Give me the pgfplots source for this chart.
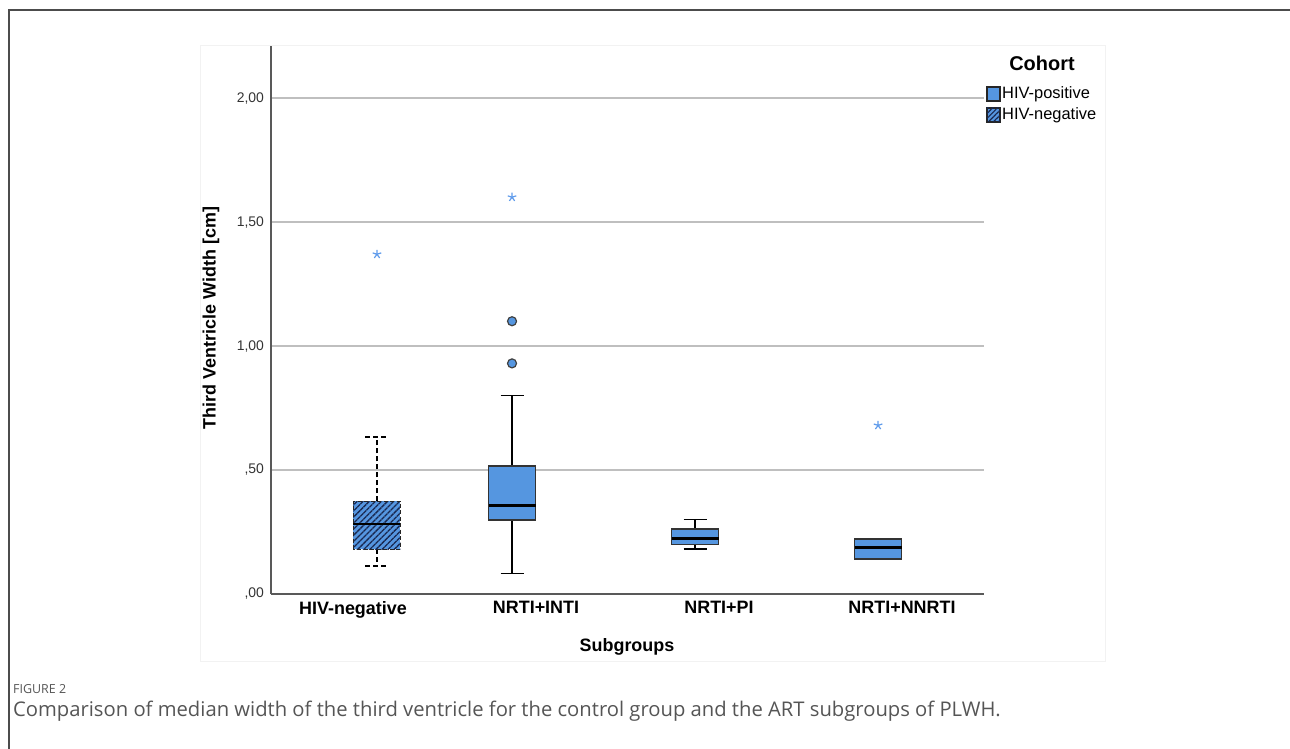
\documentclass[border=0pt]{standalone}
\usepackage{fontspec}
\setmainfont{Liberation Sans}
\newfontfamily\capfont{Open Sans}
\usepackage{pgfplots}
\pgfplotsset{compat=1.18}
\usepgfplotslibrary{statistics}
\usetikzlibrary{patterns.meta}
\definecolor{hivblue}{RGB}{85,150,224}
\definecolor{hatchc}{RGB}{25,40,80}
\definecolor{starblue}{RGB}{95,155,235}
\definecolor{capgray}{RGB}{85,85,85}
\begin{document}
\begin{tikzpicture}[x=1bp,y=1bp]
\path[use as bounding box] (0,0) rectangle (1290,749);
\draw[black!70, line width=2bp] (9,0) -- (9,739) -- (1290,739);
\draw[black!5, line width=1bp] (200,87) rectangle (1105,703);
\begin{axis}[
  at={(271bp,155bp)}, anchor=south west,
  scale only axis, width=713bp, height=548bp,
  xmin=-0.448, xmax=3.448, ymin=0, ymax=2.21,
  axis x line*=bottom, axis y line*=left,
  axis line style={-, black!65, line width=1.6bp},
  major tick length=0,
  ytick={0,0.5,1,1.5,2},
  yticklabels={{,00},{,50},{1,00},{1,50},{2,00}},
  xtick={0,1,2,3},
  xticklabels={HIV-negative,NRTI+INTI,NRTI+PI,NRTI+NNRTI},
  yticklabel style={font=\fontsize{14}{16}\selectfont, text=black!80, xshift=-3.5bp},
  xticklabel style={font=\bfseries\fontsize{18}{20}\selectfont, yshift=-4bp},
  ymajorgrids, grid style={black!25, line width=1.5bp},
  boxplot/draw direction=y,
  clip=false,
]
% HIV-negative (hatched, dashed)
\addplot[boxplot prepared={draw position=0.131, lower whisker=0.114, lower quartile=0.181,
  median=0.282, upper quartile=0.374, upper whisker=0.632, box extend=0.257, whisker extend=0.126},
  boxplot/every box/.style={fill=hivblue, draw=black!85, line width=1.2bp, dash pattern=on 4bp off 2.5bp,
     postaction={pattern={Lines[angle=45,distance=4.3bp,line width=1.3bp]}, pattern color=hatchc}},
  boxplot/every whisker/.style={draw=black, line width=1.6bp, dash pattern=on 5bp off 3bp},
  boxplot/every median/.style={draw=black, line width=2.8bp, solid}
] coordinates {};
% NRTI+INTI
\addplot[boxplot prepared={draw position=0.869, lower whisker=0.083, lower quartile=0.298,
  median=0.356, upper quartile=0.516, upper whisker=0.80, box extend=0.257, whisker extend=0.126},
  boxplot/every box/.style={fill=hivblue, draw=black!80, line width=1.2bp},
  boxplot/every whisker/.style={draw=black, line width=1.6bp},
  boxplot/every median/.style={draw=black, line width=2.8bp}
] coordinates {};
% NRTI+PI
\addplot[boxplot prepared={draw position=1.869, lower whisker=0.181, lower quartile=0.200,
  median=0.223, upper quartile=0.262, upper whisker=0.300, box extend=0.257, whisker extend=0.126},
  boxplot/every box/.style={fill=hivblue, draw=black!80, line width=1.2bp},
  boxplot/every whisker/.style={draw=black, line width=1.6bp},
  boxplot/every median/.style={draw=black, line width=2.8bp}
] coordinates {};
% NRTI+NNRTI
\addplot[boxplot prepared={draw position=2.869, lower whisker=0.141, lower quartile=0.141,
  median=0.188, upper quartile=0.222, upper whisker=0.222, box extend=0.257, whisker extend=0.126},
  boxplot/every box/.style={fill=hivblue, draw=black!80, line width=1.2bp},
  boxplot/every whisker/.style={draw=black!60, line width=1.2bp},
  boxplot/every median/.style={draw=black, line width=2.8bp}
] coordinates {};
% extreme outliers (stars)
\addplot[only marks, mark=star, mark size=4.5bp, starblue, line width=1.2bp]
  coordinates {(0.131,1.37) (0.869,1.60) (2.869,0.68)};
% outliers (circles)
\addplot[only marks, mark=*, mark size=4.5bp, mark options={fill=hivblue, draw=black!75, line width=1.2bp}]
  coordinates {(0.869,1.10) (0.869,0.93)};
\end{axis}
% axis titles
\node[rotate=90, font=\bfseries\fontsize{18}{20}\selectfont] at (211,431) {Third Ventricle Width [cm]};
\node[font=\bfseries\fontsize{18}{20}\selectfont] at (627,102) {Subgroups};
% legend
\node[font=\bfseries\fontsize{20}{22}\selectfont] at (1042,686) {Cohort};
\draw[fill=hivblue, draw=black!85, line width=1.3bp] (987,648) rectangle (1000,662);
\draw[fill=hivblue, draw=black!85, line width=1.3bp, postaction={pattern={Lines[angle=45,distance=3.5bp,line width=1.2bp]}, pattern color=hatchc}] (987,627) rectangle (1000,641);
\node[anchor=west, inner sep=0pt, font=\fontsize{16.5}{18}\selectfont] at (1002,655) {HIV-positive};
\node[anchor=west, inner sep=0pt, font=\fontsize{16.5}{18}\selectfont] at (1002,634) {HIV-negative};
% caption
\node[anchor=west, inner sep=0pt, text=capgray, font=\capfont\fontsize{12.5}{14}\selectfont] at (13,60) {FIGURE 2};
\node[anchor=west, inner sep=0pt, text=capgray, font=\capfont\fontsize{20.3}{22}\selectfont] at (13,38) {Comparison of median width of the third ventricle for the control group and the ART subgroups of PLWH.};
\end{tikzpicture}
\end{document}
